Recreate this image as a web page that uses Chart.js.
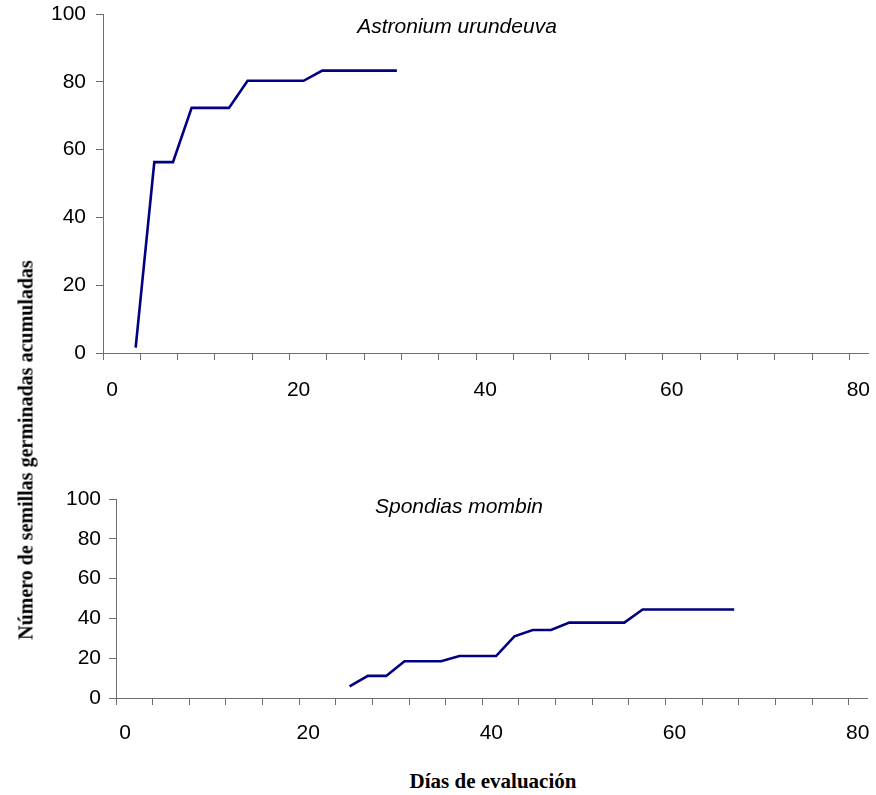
<!DOCTYPE html>
<html>
<head>
<meta charset="utf-8">
<script src="https://cdn.jsdelivr.net/npm/chart.js@4.4.1/dist/chart.umd.min.js"></script>
<style>
    body { margin: 0; background: #fff; }
    #page { position: relative; width: 876px; height: 795px; overflow: hidden; }
    #chart-top { position: absolute; left: 0; top: 0; }
    #chart-bottom { position: absolute; left: 0; top: 480px; }
    .axis-title {
        position: absolute;
        font-family: "Liberation Serif", "Times New Roman", serif;
        font-weight: bold;
        line-height: 21px;
        white-space: nowrap;
        color: #000;
    }
    #y-title { font-size: 20px; left: 26px; top: 450px; transform: translate(-50%, -50%) rotate(-90deg); }
    #x-title { font-size: 21px; left: 493px; top: 781px; transform: translate(-50%, -50%); }
</style>
</head>
<body>
<div id="page">
    <canvas id="chart-top" width="876" height="400"></canvas>
    <canvas id="chart-bottom" width="876" height="260"></canvas>
    <div class="axis-title" id="y-title">Número de semillas germinadas acumuladas</div>
    <div class="axis-title" id="x-title">Días de evaluación</div>
</div>
<script>
// Astronium urundeuva - cumulative germinated seeds
const astroniumDays = [3.5, 5.5, 7.5, 9.5, 11.5, 13.5, 15.5, 17.5, 19.5, 21.5, 23.5, 25.5, 27.5, 29.5, 31.5];
const astroniumSeeds = [1.6, 56.3, 56.3, 72.3, 72.3, 72.3, 80.3, 80.3, 80.3, 80.3, 83.3, 83.3, 83.3, 83.3, 83.3];

// Spondias mombin - cumulative germinated seeds
const spondiasDays = [25.5, 27.5, 29.5, 31.5, 33.5, 35.5, 37.5, 39.5, 41.5, 43.5, 45.5,
    47.5, 49.5, 51.5, 53.5, 55.5, 57.5, 59.5, 61.5, 63.5, 65.5, 67.5];
const spondiasSeeds = [5.9, 11.1, 11.1, 18.5, 18.5, 18.5, 21.1, 21.1, 21.1, 31.0, 34.2,
    34.2, 37.9, 37.9, 37.9, 37.9, 44.5, 44.5, 44.5, 44.5, 44.5, 44.5];

const yTicks = [0, 20, 40, 60, 80, 100];
const xLabelEvery = 20;

const axisColor = '#6e6e6e';
const lineColor = '#000080';
const tickFont = { family: '"Liberation Sans", Arial, sans-serif', size: 21 };

// draws the species name inside the plot area
const speciesLabel = {
    id: 'speciesLabel',
    afterDraw(chart, args, opts) {
        const ctx = chart.ctx;
        ctx.save();
        ctx.font = 'italic 21px "Liberation Sans", Arial, sans-serif';
        ctx.fillStyle = '#000';
        ctx.textAlign = 'center';
        ctx.textBaseline = 'alphabetic';
        ctx.fillText(opts.text, opts.x, opts.y);
        ctx.restore();
    }
};

function makeChart(id, days, seeds, cfg) {
    const points = days.map((d, i) => ({ x: d, y: seeds[i] }));
    return new Chart(document.getElementById(id), {
        type: 'line',
        data: {
            datasets: [{
                data: points,
                borderColor: lineColor,
                borderWidth: 2.6,
                pointRadius: 0,
                tension: 0,
                fill: false
            }]
        },
        options: {
            responsive: false,
            animation: false,
            layout: { padding: { top: cfg.padTop, right: cfg.padRight, left: 0, bottom: 0 } },
            plugins: {
                legend: { display: false },
                tooltip: { enabled: false },
                speciesLabel: { text: cfg.title, x: cfg.titleX, y: cfg.titleY }
            },
            scales: {
                x: {
                    type: 'linear',
                    min: 0,
                    max: 82,
                    afterFit: s => {
                        s.height = cfg.xHeight;
                        s.paddingLeft = 0;
                        s.paddingRight = 0;
                    },
                    border: { display: true, color: axisColor, width: 1 },
                    grid: { drawOnChartArea: false, drawTicks: true, tickLength: 7, color: axisColor },
                    ticks: {
                        stepSize: 4,
                        includeBounds: false,
                        autoSkip: false,
                        maxRotation: 0,
                        labelOffset: 9,
                        padding: cfg.xPad,
                        color: '#000',
                        font: tickFont,
                        callback: v => (v % xLabelEvery === 0 ? v : '')
                    }
                },
                y: {
                    min: yTicks[0],
                    max: yTicks[yTicks.length - 1],
                    afterFit: s => {
                        s.width = cfg.yWidth;
                        s.paddingTop = 0;
                        s.paddingBottom = 0;
                    },
                    border: { display: true, color: axisColor, width: 1 },
                    grid: { drawOnChartArea: false, drawTicks: true, tickLength: 7, color: axisColor },
                    ticks: {
                        stepSize: 20,
                        padding: cfg.yPad,
                        color: '#000',
                        font: tickFont
                    }
                }
            }
        },
        plugins: [speciesLabel]
    });
}

makeChart('chart-top', astroniumDays, astroniumSeeds, {
    title: 'Astronium urundeuva', titleX: 457, titleY: 33,
    padTop: 14, padRight: 8, yWidth: 103, xHeight: 47, yPad: 10, xPad: 18
});

makeChart('chart-bottom', spondiasDays, spondiasSeeds, {
    title: 'Spondias mombin', titleX: 459, titleY: 33,
    padTop: 19, padRight: 9, yWidth: 116, xHeight: 42, yPad: 8, xPad: 16
});
</script>
</body>
</html>
